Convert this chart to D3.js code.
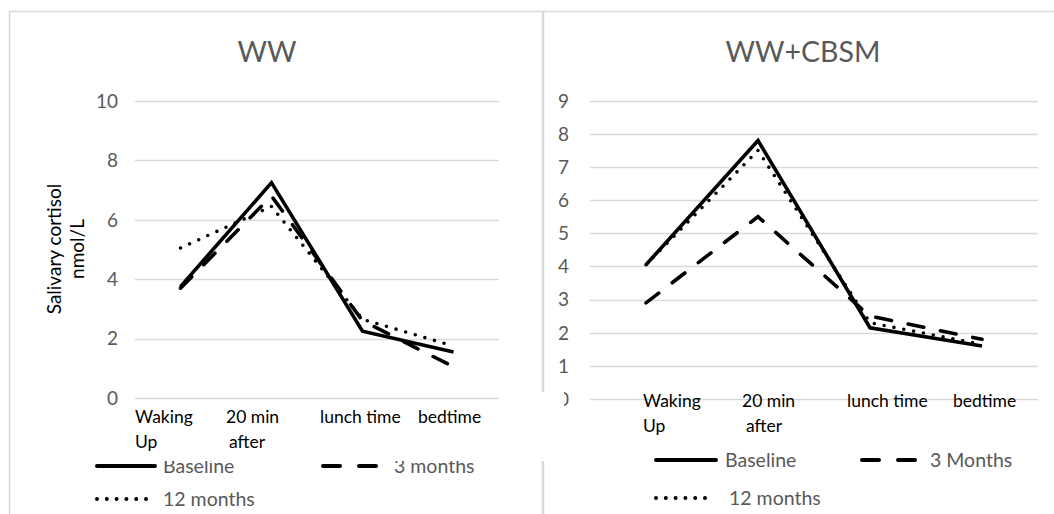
<!DOCTYPE html>
<html>
<head>
<meta charset="utf-8">
<script src="https://cdn.jsdelivr.net/npm/d3@7"></script>
<style>
  body { margin: 0; background: #fff; }
  svg { display: block; font-family: Lato, "Open Sans", sans-serif; }
</style>
</head>
<body>
<div id="chart"></div>
<script>
// data
var categories = ["Waking Up", "20 min after", "lunch time", "bedtime"];
var categoryLines = [["Waking", "Up"], ["20 min", "after"], ["lunch time"], ["bedtime"]];

var wwBaseline = [3.75, 7.25, 2.25, 1.55];
var ww3Months = [3.7, 6.8, 2.6, 1.05];
var ww12Months = [5.05, 6.45, 2.65, 1.75];
var wwTicks = [0, 2, 4, 6, 8, 10];

var cbsmBaseline = [4.05, 7.8, 2.15, 1.6];
var cbsm3Months = [2.9, 5.5, 2.5, 1.8];
var cbsm12Months = [4.05, 7.5, 2.3, 1.65];
var cbsmTicks = [0, 1, 2, 3, 4, 5, 6, 7, 8, 9];

var wwNames = ["Baseline", "3 months", "12 months"];
var cbsmNames = ["Baseline", "3 Months", "12 months"];

var styles = [
  { dash: null, cap: "butt" },
  { dash: "16,17", cap: "round" },
  { dash: "0,10", cap: "round" }
];

var svg = d3.select("#chart").append("svg")
  .attr("width", 1054)
  .attr("height", 514);

var grey = "#595959";
var border = "#d9d9d9";

function drawPanel(p) {
  var g = svg.append("g");

  var x = d3.scaleBand().domain(categories).range(p.xRange);
  var y = d3.scaleLinear().domain([0, p.yMax]).range(p.yRange);

  // gridlines
  g.selectAll(".grid")
    .data(p.ticks)
    .enter().append("line")
    .attr("x1", p.xRange[0]).attr("x2", p.xRange[1])
    .attr("y1", function (d) { return Math.round(y(d)) + 0.5; })
    .attr("y2", function (d) { return Math.round(y(d)) + 0.5; })
    .attr("stroke", border).attr("stroke-width", 1.3);

  // y tick labels
  g.selectAll(".ytick")
    .data(p.ticks)
    .enter().append("text")
    .attr("x", p.tickX)
    .attr("y", function (d) { return y(d); })
    .attr("dy", "0.36em")
    .attr("text-anchor", "end")
    .attr("fill", grey)
    .style("font-size", "19px")
    .text(function (d) { return d; });

  // title
  g.append("text")
    .attr("x", p.titleX).attr("y", 62)
    .attr("text-anchor", "middle")
    .attr("fill", grey)
    .style("font-size", "28.5px")
    .text(p.title);

  // series lines
  var line = d3.line()
    .x(function (d, i) { return x(categories[i]) + x.bandwidth() / 2; })
    .y(function (d) { return y(d); });

  p.series.forEach(function (s, i) {
    g.append("path")
      .datum(s)
      .attr("d", line)
      .attr("fill", "none")
      .attr("stroke", "#000")
      .attr("stroke-width", 3.6)
      .attr("stroke-linejoin", "miter")
      .attr("stroke-linecap", styles[i].cap)
      .attr("stroke-dasharray", styles[i].dash);
  });

  // legend
  p.legend.forEach(function (l, i) {
    g.append("line")
      .attr("x1", l.x1).attr("x2", l.x2)
      .attr("y1", l.y).attr("y2", l.y)
      .attr("stroke", "#000")
      .attr("stroke-width", 4)
      .attr("stroke-linecap", "round")
      .attr("stroke-dasharray", i == 0 ? null : (i == 1 ? "17,19" : "0,9.8"));
    g.append("text")
      .attr("x", l.tx).attr("y", l.y + 7)
      .attr("fill", grey)
      .style("font-size", "19.5px")
      .text(p.names[i]);
  });

  // white box behind the category labels (hides bits of gridline / legend)
  g.append("rect")
    .attr("x", p.labelBox[0]).attr("y", p.labelBox[1])
    .attr("width", p.labelBox[2]).attr("height", p.labelBox[3])
    .attr("fill", "#fff");

  // category labels
  categoryLines.forEach(function (lines, i) {
    var t = g.append("text")
      .attr("x", x(categories[i]) + p.labelDx[i])
      .attr("y", p.labelY)
      .attr("fill", "#000")
      .style("font-size", "17.5px");
    lines.forEach(function (s, j) {
      t.append("tspan")
        .attr("x", x(categories[i]) + p.labelDx[i] + (j > 0 ? p.line2Dx[i] : 0))
        .attr("dy", j == 0 ? 0 : 25)
        .text(s);
    });
  });
}

// frame lines
svg.append("line").attr("x1", 9).attr("x2", 1054).attr("y1", 11.5).attr("y2", 11.5)
  .attr("stroke", border).attr("stroke-width", 1.5);
svg.append("line").attr("x1", 9.5).attr("x2", 9.5).attr("y1", 11).attr("y2", 514)
  .attr("stroke", border).attr("stroke-width", 1.5);

drawPanel({
  title: "WW", titleX: 267,
  xRange: [135, 499], yRange: [398, 101], yMax: 10,
  ticks: wwTicks, tickX: 118,
  series: [wwBaseline, ww3Months, ww12Months],
  names: wwNames,
  labelY: 423, labelDx: [0, 0, 3, 10], line2Dx: [0, 3, 0, 0],
  labelBox: [122, 406, 418, 55],
  legend: [
    { x1: 97, x2: 155, y: 466, tx: 163 },
    { x1: 323, x2: 377, y: 466, tx: 394 },
    { x1: 97, x2: 150, y: 499, tx: 163 }
  ]
});

// y axis title for left panel
svg.append("text")
  .attr("transform", "translate(61,249) rotate(-90)")
  .attr("text-anchor", "middle")
  .attr("fill", "#000")
  .style("font-size", "19px")
  .selectAll("tspan")
  .data(["Salivary cortisol", "nmol/L"])
  .enter().append("tspan")
  .attr("x", 0)
  .attr("dy", function (d, i) { return i == 0 ? 0 : 23; })
  .text(function (d) { return d; });

drawPanel({
  title: "WW+CBSM", titleX: 803,
  xRange: [590, 1038], yRange: [399, 100.7], yMax: 9,
  ticks: cbsmTicks, tickX: 569,
  series: [cbsmBaseline, cbsm3Months, cbsm12Months],
  names: cbsmNames,
  labelY: 407, labelDx: [53, 40, 33, 27], line2Dx: [0, 4, 0, 0],
  labelBox: [625, 401, 420, 50],
  legend: [
    { x1: 656, x2: 716, y: 460, tx: 725 },
    { x1: 862, x2: 917, y: 460, tx: 930 },
    { x1: 656, x2: 712, y: 498, tx: 729 }
  ]
});

// divider between panels, with the gap where the label box sits over it
svg.append("line").attr("x1", 543).attr("x2", 543).attr("y1", 11).attr("y2", 394)
  .attr("stroke", border).attr("stroke-width", 2.5);
svg.append("line").attr("x1", 543).attr("x2", 543).attr("y1", 461).attr("y2", 514)
  .attr("stroke", border).attr("stroke-width", 2.5);
svg.append("rect").attr("x", 530).attr("y", 392).attr("width", 34).attr("height", 14)
  .attr("fill", "#fff");
</script>
</body>
</html>
